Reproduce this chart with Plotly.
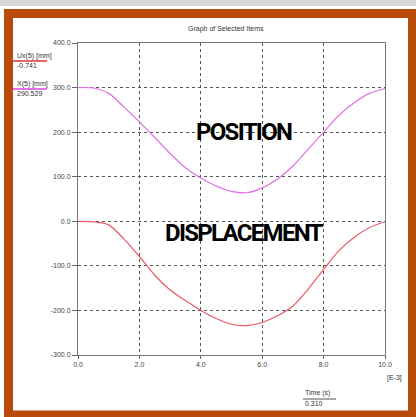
import plotly.graph_objects as go

# ---- data ----
time_ms = [0, 0.5, 1, 1.5, 2, 2.5, 3, 3.5, 4, 4.5, 5, 5.5, 6, 6.5, 7, 7.5, 8, 8.5, 9, 9.5, 10]
position = [300, 299, 287, 256, 223, 188, 152, 120, 97, 79, 67, 64, 75, 95, 124, 162, 200, 238, 266, 287, 298]
displacement = [0, -1, -8, -40, -79, -121, -154, -178, -200, -218, -231, -234, -227, -212, -190, -152, -108, -66, -36, -14, -1]
x_ticks = [0, 2, 4, 6, 8, 10]
y_ticks = [-300, -200, -100, 0, 100, 200, 300, 400]

FIG_W, FIG_H = 416, 417
L, R, T, B = 78, 31, 43, 62
PW, PH = FIG_W - L - R, FIG_H - T - B


def px(x):
    return (x - L) / PW


def py(y):
    return (FIG_H - B - y) / PH


fig = go.Figure()
fig.add_trace(go.Scatter(x=time_ms, y=position, mode="lines",
                         line=dict(color="#e070e8", width=1.2, shape="spline", smoothing=0.8), name="X(5)"))
fig.add_trace(go.Scatter(x=time_ms, y=displacement, mode="lines",
                         line=dict(color="#e85a64", width=1.2, shape="spline", smoothing=0.8), name="Ux(5)"))

axis_common = dict(showline=True, linecolor="#777777", linewidth=1, mirror=True,
                   showgrid=True, gridcolor="#555555", griddash="dot", gridwidth=1,
                   zeroline=False, ticks="outside", tickcolor="#666666",
                   tickfont=dict(family="Liberation Sans, Arial", size=7, color="#444444"))

fig.update_xaxes(range=[0, 10], tickvals=x_ticks, ticktext=[f"{v:.1f}" for v in x_ticks], ticklen=3, **axis_common)
fig.update_yaxes(range=[-300, 400], tickvals=y_ticks, ticktext=[f"{v:.1f}" for v in y_ticks], ticklen=5, **axis_common)

small = dict(family="Liberation Sans, Arial", size=7, color="#333333")
big = dict(family="Roboto, Liberation Sans, Arial", size=24, color="#000000", weight="bold")

ann = [
    dict(x=px(226), y=py(29), text="Graph of Selected Items", font=small, xanchor="center"),
    dict(x=px(15), y=py(56), text="Ux(5) [mm]", font=small, xanchor="left"),
    dict(x=px(15), y=py(66), text="-0.741", font=small, xanchor="left"),
    dict(x=px(15), y=py(84), text="X(5) [mm]", font=small, xanchor="left"),
    dict(x=px(15), y=py(93), text="290.529", font=small, xanchor="left"),
    dict(x=px(385), y=py(378), text="[E-3]", font=small, xanchor="left"),
    dict(x=px(303), y=py(393), text="Time (s)", font=small, xanchor="left"),
    dict(x=px(303), y=py(404), text="0.310", font=small, xanchor="left"),
    dict(x=px(244), y=py(132), text="<span style='letter-spacing:-1.7px'>POSITION</span>", font=big, xanchor="center"),
    dict(x=px(244), y=py(233), text="<span style='letter-spacing:-1.7px'>DISPLACEMENT</span>", font=big, xanchor="center"),
]
for a in ann:
    a.update(xref="paper", yref="paper", yanchor="middle", showarrow=False)

shapes = [
    dict(type="rect", xref="paper", yref="paper", x0=px(0), x1=px(416), y0=py(0), y1=py(6),
         fillcolor="#d6d6d6", line=dict(width=0), layer="below"),
    dict(type="rect", xref="paper", yref="paper", x0=px(8.5), x1=px(412.5), y0=py(13.5), y1=py(415),
         line=dict(color="#b84a0a", width=9), layer="above"),
    dict(type="line", xref="paper", yref="paper", x0=px(13), x1=px(47), y0=py(61), y1=py(61),
         line=dict(color="#e0303c", width=1.5)),
    dict(type="line", xref="paper", yref="paper", x0=px(13), x1=px(47), y0=py(89), y1=py(89),
         line=dict(color="#e040e0", width=1.5)),
    dict(type="line", xref="paper", yref="paper", x0=px(303), x1=px(336), y0=py(399), y1=py(399),
         line=dict(color="#555555", width=1)),
]

fig.update_layout(width=FIG_W, height=FIG_H, margin=dict(l=L, r=R, t=T, b=B),
                  paper_bgcolor="white", plot_bgcolor="white", showlegend=False,
                  annotations=ann, shapes=shapes)

fig.write_html("out.html", config={"displayModeBar": False},
               post_script="document.body.style.margin='0';document.body.style.overflow='hidden';")
